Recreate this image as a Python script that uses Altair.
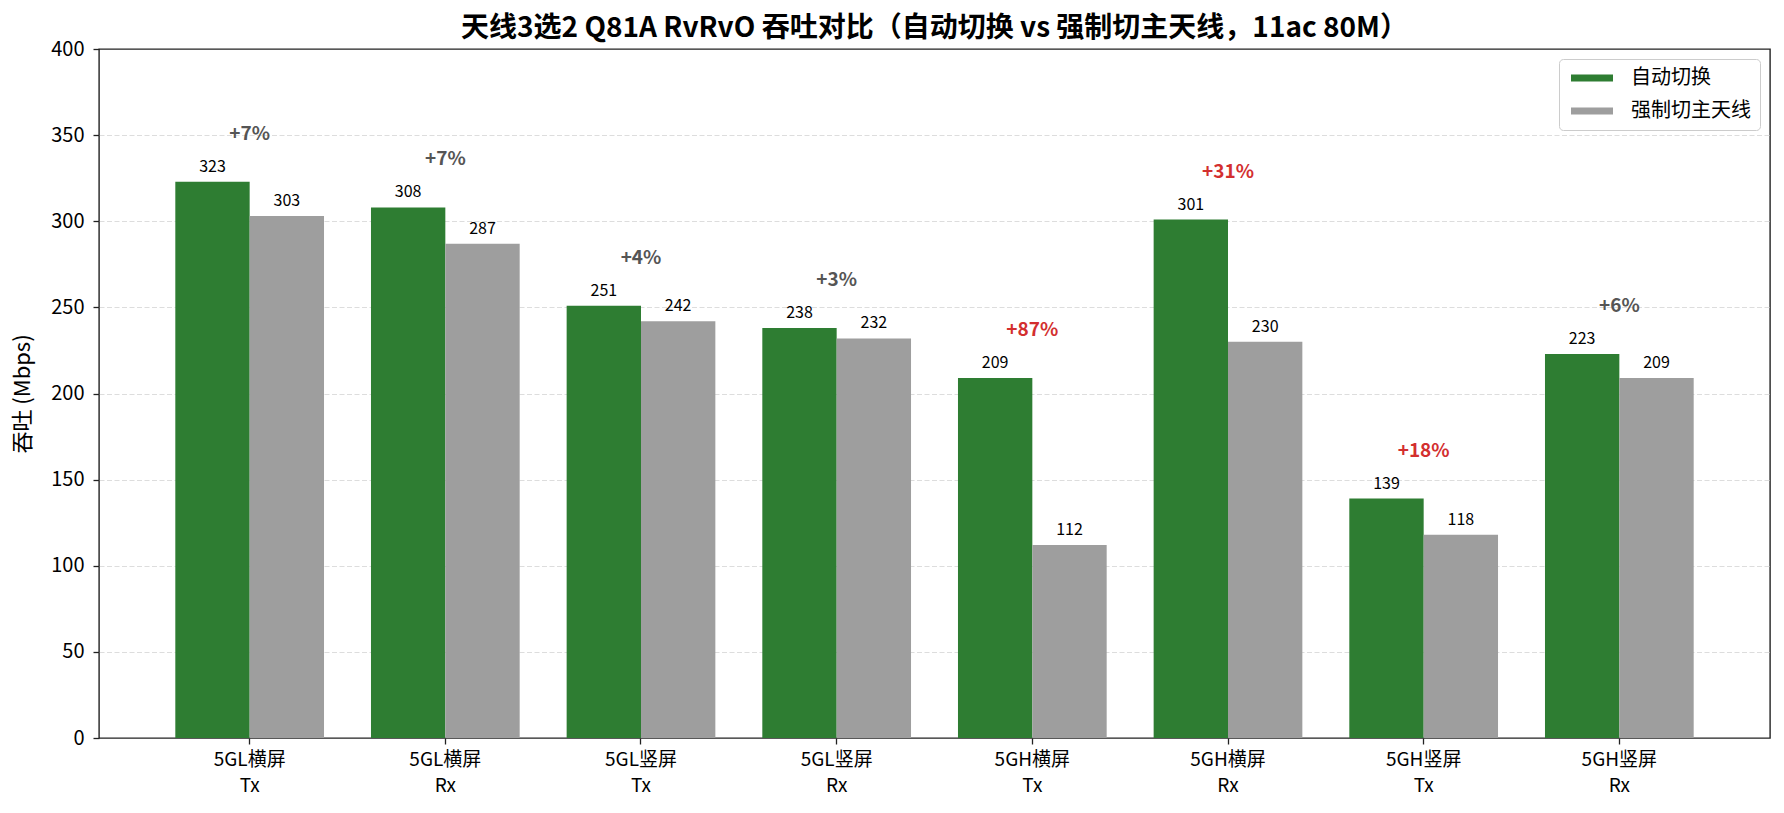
import altair as alt
import pandas as pd

categories = ["5GL横屏|Tx", "5GL横屏|Rx", "5GL竖屏|Tx", "5GL竖屏|Rx",
              "5GH横屏|Tx", "5GH横屏|Rx", "5GH竖屏|Tx", "5GH竖屏|Rx"]
auto_vals = [323, 308, 251, 238, 209, 301, 139, 223]
forced_vals = [303, 287, 242, 232, 112, 230, 118, 209]
gain_pct = [7, 7, 4, 3, 87, 31, 18, 6]
series = ["自动切换", "强制切主天线"]
colors = ["#2e7d32", "#9e9e9e"]

FONT = "Noto Sans CJK SC"

rows = []
for c, a, f in zip(categories, auto_vals, forced_vals):
    rows.append({"cat": c, "series": series[0], "value": a})
    rows.append({"cat": c, "series": series[1], "value": f})
bars_df = pd.DataFrame(rows)

pct_df = pd.DataFrame({
    "cat": categories,
    "top": [max(a, f) for a, f in zip(auto_vals, forced_vals)],
    "pct": gain_pct,
})
pct_df["label"] = ["+%d%%" % p for p in gain_pct]

x_enc = alt.X("cat:N", sort=categories,
              scale=alt.Scale(paddingInner=0.24, paddingOuter=0.39),
              axis=alt.Axis(title=None, labelAngle=0,
                            labelExpr="split(datum.label, '|')",
                            labelFontSize=19, labelLineHeight=26,
                            labelPadding=6, tickSize=6, tickColor="#222",
                            tickWidth=1.3, domain=False, grid=False,
                            labelColor="#000"))
y_enc = alt.Y("value:Q", scale=alt.Scale(domain=[0, 400], nice=False),
              axis=alt.Axis(title="吞吐 (Mbps)", values=list(range(0, 401, 50)),
                            grid=True, gridDash=[5, 2.5], gridColor="#dddddd",
                            gridWidth=1,
                            gridOpacity={"condition": {"test": "datum.value === 0 || datum.value === 400",
                                                       "value": 0}, "value": 1},
                            tickSize=6, tickColor="#222",
                            tickWidth=1.3, domain=False, labelFontSize=20,
                            labelPadding=9, labelColor="#000",
                            titleFontSize=22, titleFontWeight="normal",
                            titleColor="#000", titlePadding=16))
xoff = alt.XOffset("series:N", sort=series,
                   scale=alt.Scale(paddingInner=0, paddingOuter=0))

bars = alt.Chart(bars_df).mark_bar().encode(
    x=x_enc, xOffset=xoff, y=y_enc,
    color=alt.Color("series:N", sort=series,
                    scale=alt.Scale(domain=series, range=colors),
                    legend=alt.Legend(title=None, orient="none",
                                      legendX=1460, legendY=10,
                                      padding=9, fillColor="white",
                                      strokeColor="#cccccc", cornerRadius=4,
                                      symbolType="M-3,-0.5H3V0.5H-3Z",
                                      symbolSize=196, symbolStrokeWidth=0,
                                      symbolOffset=14,
                                      labelFontSize=20, labelOffset=29,
                                      rowPadding=13, labelColor="#000")),
)

values = alt.Chart(bars_df).mark_text(dy=-10, baseline="alphabetic",
                                      fontSize=16, color="#000").encode(
    x=alt.X("cat:N", sort=categories), xOffset=xoff,
    y=alt.Y("value:Q"), text=alt.Text("value:Q", format="d"),
)

pcts = alt.Chart(pct_df).mark_text(dy=-48, baseline="middle", fontSize=19,
                                   fontWeight="bold").encode(
    x=alt.X("cat:N", sort=categories),
    y=alt.Y("top:Q"),
    text="label:N",
    color=alt.condition("datum.pct >= 10", alt.value("#d32f2f"), alt.value("#555555")),
)

chart = alt.layer(bars, values, pcts).properties(
    width=1671, height=689,
    title=alt.Title("天线3选2 Q81A RvRvO 吞吐对比（自动切换 vs 强制切主天线，11ac 80M）",
                    fontSize=28, fontWeight="bold", color="#000", offset=-4,
                    anchor="middle"),
    autosize=alt.AutoSizeParams(type="none"),
    padding={"left": 91, "top": 41, "right": 4, "bottom": 60},
).configure(font=FONT).configure_view(stroke="#222", strokeWidth=1.4)

chart.save("out.html", embed_options={"renderer": "svg", "actions": False})
